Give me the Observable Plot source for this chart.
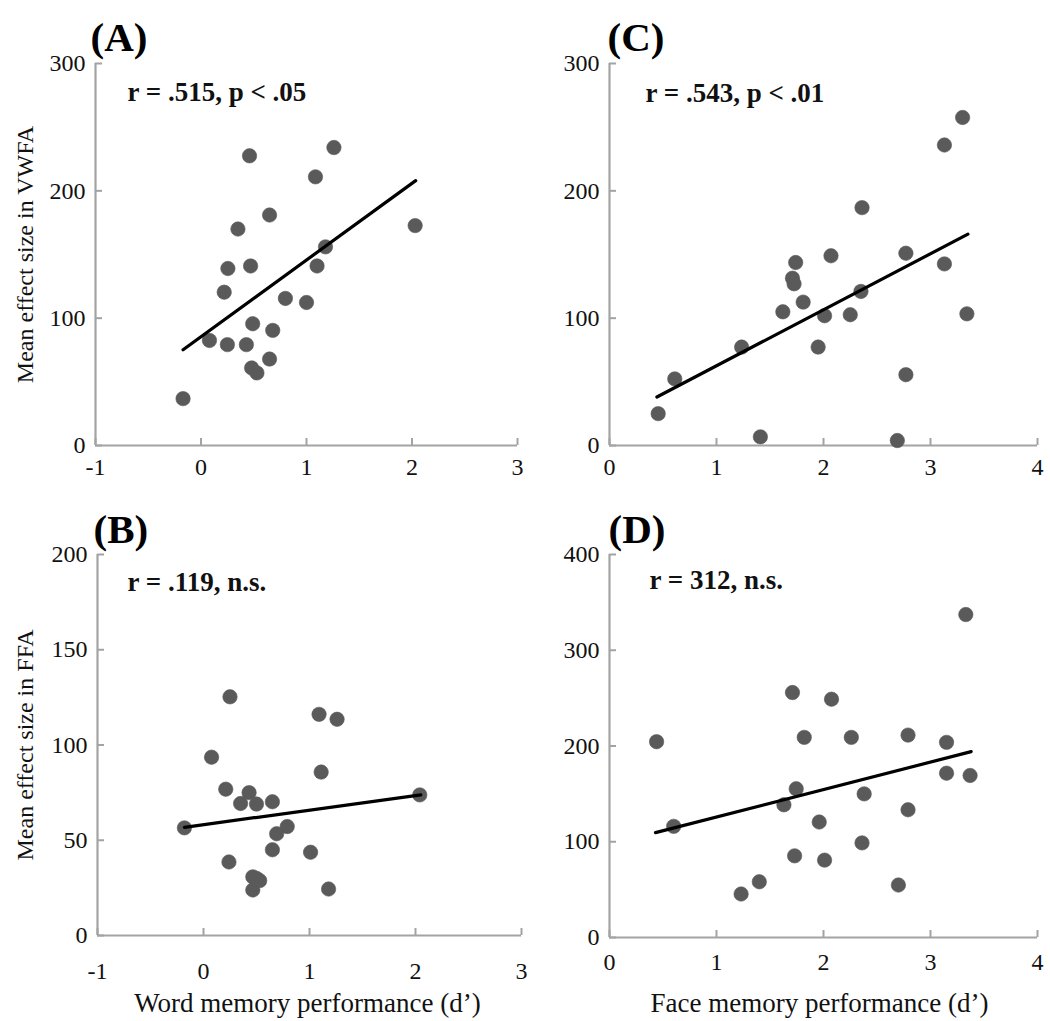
<!DOCTYPE html>
<html>
<head>
<meta charset="utf-8">
<script src="https://cdn.jsdelivr.net/npm/d3@7"></script>
<script src="https://cdn.jsdelivr.net/npm/@observablehq/plot@0.6"></script>
<style>
  html, body { margin: 0; padding: 0; background: #fff; }
  #root { position: relative; width: 1050px; height: 1021px; background: #fff; overflow: hidden; }
  #root > svg { position: absolute; }
</style>
</head>
<body>
<div id="root"></div>
<script>
// ---------- Data ----------
// Panel A: word memory (d') vs mean effect size in VWFA
const wordA = [0.46, 1.26, 1.085, 0.65, 0.35, 2.03, 1.18, 0.255, 0.47, 1.10, 0.22, 0.80, 1.00, 0.49, 0.68, 0.08, 0.25, 0.43, 0.65, 0.48, 0.53, -0.17];
const vwfaA = [227.5, 234, 211, 181, 170, 172.7, 156, 139, 141, 141, 120.4, 115.5, 112.3, 95.6, 90.4, 82.5, 79.2, 79.2, 67.9, 60.9, 57, 36.8];
const fitA_x = [-0.17, 2.035];
const fitA_y = [75.2, 208];

// Panel B: word memory (d') vs mean effect size in FFA
const wordB = [0.25, 1.09, 1.26, 0.076, 1.11, 0.21, 0.43, 2.04, 0.35, 0.50, 0.65, -0.18, 0.79, 0.69, 0.65, 1.01, 0.24, 0.465, 0.53, 0.465, 1.18, 0.50];
const ffaB  = [125.3, 116.1, 113.5, 93.6, 85.8, 76.8, 75, 73.8, 69.3, 69, 70.2, 56.5, 57.2, 53.4, 45, 43.7, 38.6, 30.8, 28.8, 23.9, 24.4, 30];
const fitB_x = [-0.18, 2.05];
const fitB_y = [56.8, 73.8];

// Panel C: face memory (d') vs mean effect size in VWFA
const faceC = [3.30, 3.13, 2.36, 2.07, 2.77, 1.74, 3.13, 1.71, 1.725, 1.81, 2.35, 1.62, 2.01, 2.25, 3.34, 1.235, 1.95, 0.61, 2.77, 0.455, 1.41, 2.69];
const vwfaC = [257.6, 236, 186.8, 149, 151, 143.7, 142.6, 131.4, 127, 112.6, 121, 105, 101.9, 102.7, 103.4, 77.3, 77.3, 52.3, 55.6, 25, 6.8, 3.9];
const fitC_x = [0.443, 3.35];
const fitC_y = [38.1, 166];

// Panel D: face memory (d') vs mean effect size in FFA
const faceD = [3.33, 1.71, 2.075, 0.44, 1.82, 2.26, 2.79, 3.15, 3.15, 3.37, 1.745, 2.38, 1.63, 2.79, 1.96, 0.60, 2.36, 1.73, 2.01, 1.40, 2.70, 1.23];
const ffaD  = [337.3, 255.8, 248.9, 204.5, 209, 209, 211.4, 203.8, 171.6, 169.2, 155.3, 150, 138.6, 133.4, 120.6, 116.1, 98.8, 85.3, 80.8, 58.2, 54.8, 45.4];
const fitD_x = [0.43, 3.38];
const fitD_y = [109.5, 194.1];

// Tick labels / domains
const wordTicks = [-1, 0, 1, 2, 3];
const faceTicks = [0, 1, 2, 3, 4];
const vwfaTicks = [0, 100, 200, 300];
const ffaTicksB = [0, 50, 100, 150, 200];
const ffaTicksD = [0, 100, 200, 300, 400];

// Texts
const panelLabels = ["(A)", "(B)", "(C)", "(D)"];
const statTexts = ["r = .515, p < .05", "r = .119, n.s.", "r = .543, p < .01", "r = 312, n.s."];
const yTitles = ["Mean effect size in VWFA", "Mean effect size in FFA"];
const xTitles = ["Word memory performance (d\u2019)", "Face memory performance (d\u2019)"];

// ---------- Drawing ----------
const FONT = '"Liberation Serif", "Times New Roman", Times, serif';
const AXIS = "#a3a3a3";
const DOT = "#5a5a5a";
const INK = "#111";

function panel(o) {
  const pts = o.xs.map((x, i) => ({x, y: o.ys[i]}));
  const fit = o.fx.map((x, i) => ({x, y: o.fy[i]}));
  const fw = o.width - o.ml - o.mr;
  const fh = o.height - o.mt - o.mb;
  const xDom = [o.xTicks[0], o.xTicks[o.xTicks.length - 1]];
  const yDom = [o.yTicks[0], o.yTicks[o.yTicks.length - 1]];
  const marks = [
    Plot.ruleY([yDom[0]], {stroke: AXIS, strokeWidth: 2.2}),
    Plot.ruleX([xDom[0]], {stroke: AXIS, strokeWidth: 2.2}),
    Plot.tickX(o.xTicks, {x: d => d, insetTop: fh - 7, stroke: AXIS, strokeWidth: 2}),
    Plot.tickY(o.yTicks, {y: d => d, insetRight: fw - 7, stroke: AXIS, strokeWidth: 2}),
    // tick labels
    Plot.text(o.xTicks, {x: d => d, text: d => String(d), frameAnchor: "bottom", dy: o.xPad, lineAnchor: "top", textAnchor: "middle", fontSize: 24, fill: INK}),
    Plot.text(o.yTicks, {y: d => d, text: d => String(d), frameAnchor: "left", dx: -10, lineAnchor: "middle", textAnchor: "end", fontSize: 24, fill: INK}),
    Plot.dot(pts, {x: "x", y: "y", r: 7.2, fill: DOT, stroke: DOT, strokeOpacity: 0.6, strokeWidth: 1}),
    Plot.line(fit, {x: "x", y: "y", stroke: "#000", strokeWidth: 3.2}),
    Plot.text([o.stat], {frameAnchor: "top-left", dx: o.sdx, dy: o.sdy, textAnchor: "start", lineAnchor: "middle", fontSize: 27, fontWeight: "bold", fill: INK}),
    Plot.text([o.label], {frameAnchor: "top-left", dx: o.ldx, dy: o.ldy, textAnchor: "start", lineAnchor: "middle", fontSize: 41, fontWeight: "bold", fill: "#000"})
  ];
  if (o.yTitle) marks.push(Plot.text([o.yTitle], {frameAnchor: "left", rotate: -90, dx: o.ytdx, fontSize: 24, textAnchor: "middle", lineAnchor: "middle", fill: INK}));
  if (o.xTitle) marks.push(Plot.text([o.xTitle], {frameAnchor: "bottom", dx: o.xtdx, dy: o.xtdy, fontSize: 27, textAnchor: "middle", lineAnchor: "middle", fill: INK}));
  const svg = Plot.plot({
    width: o.width, height: o.height,
    marginLeft: o.ml, marginRight: o.mr, marginTop: o.mt, marginBottom: o.mb,
    style: {fontFamily: FONT, fontSize: "24px", background: "transparent", color: INK, overflow: "visible"},
    x: {domain: xDom, axis: null},
    y: {domain: yDom, axis: null},
    marks
  });
  svg.style.left = o.left + "px";
  svg.style.top = o.top + "px";
  return svg;
}

const root = document.getElementById("root");

root.appendChild(panel({
  left: 0, top: 0, width: 525, height: 500, ml: 95, mr: 8, mt: 63, mb: 55,
  xs: wordA, ys: vwfaA, fx: fitA_x, fy: fitA_y, xTicks: wordTicks, yTicks: vwfaTicks,
  xPad: 12, stat: statTexts[0], sdx: 32, sdy: 29, label: panelLabels[0], ldx: -5, ldy: -26,
  yTitle: yTitles[0], ytdx: -70
}));

root.appendChild(panel({
  left: 525, top: 0, width: 525, height: 500, ml: 84, mr: 13, mt: 63, mb: 55,
  xs: faceC, ys: vwfaC, fx: fitC_x, fy: fitC_y, xTicks: faceTicks, yTicks: vwfaTicks,
  xPad: 12, stat: statTexts[2], sdx: 36, sdy: 30, label: panelLabels[2], ldx: -2, ldy: -26
}));

root.appendChild(panel({
  left: 0, top: 500, width: 525, height: 521, ml: 97, mr: 4, mt: 54, mb: 86,
  xs: wordB, ys: ffaB, fx: fitB_x, fy: fitB_y, xTicks: wordTicks, yTicks: ffaTicksB,
  xPad: 26, stat: statTexts[1], sdx: 30, sdy: 28, label: panelLabels[1], ldx: -4, ldy: -25,
  yTitle: yTitles[1], ytdx: -72, xTitle: xTitles[0], xtdx: -2, xtdy: 68
}));

root.appendChild(panel({
  left: 525, top: 500, width: 525, height: 521, ml: 84, mr: 13, mt: 54, mb: 84,
  xs: faceD, ys: ffaD, fx: fitD_x, fy: fitD_y, xTicks: faceTicks, yTicks: ffaTicksD,
  xPad: 15, stat: statTexts[3], sdx: 40, sdy: 26, label: panelLabels[3], ldx: -1, ldy: -25,
  xTitle: xTitles[1], xtdx: -4, xtdy: 66
}));
</script>
</body>
</html>
